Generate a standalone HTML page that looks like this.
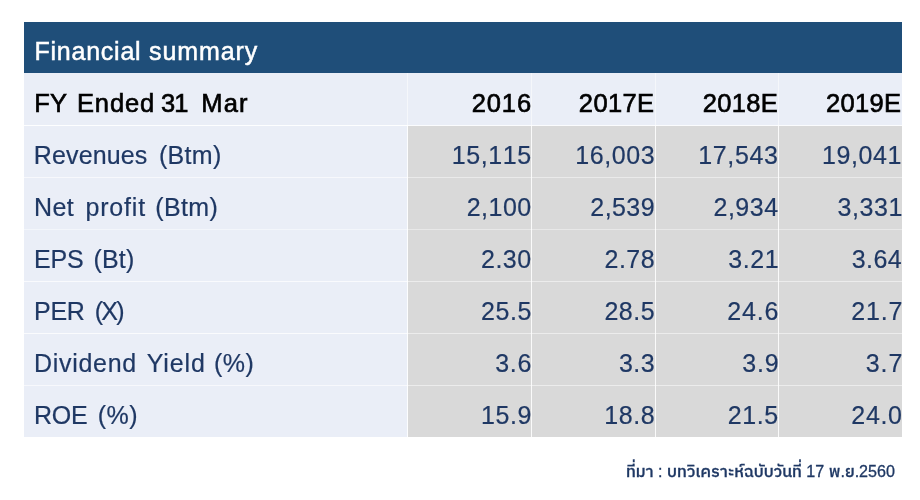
<!DOCTYPE html>
<html lang="th">
<head>
<meta charset="utf-8">
<title>Financial summary</title>
<style>
html,body{margin:0;padding:0;background:#fff;}
body{width:920px;height:500px;position:relative;overflow:hidden;font-family:"Liberation Sans",sans-serif;}
.hd{position:absolute;left:24.1px;top:22.1px;width:877.6px;height:50.6px;background:#1F4E79;}
.lb{position:absolute;left:24.1px;top:72.7px;width:877.6px;height:364.4px;background:#EAEEF7;}
.gr{position:absolute;left:408.1px;top:126px;width:493.6px;height:311.1px;background:#D9D9D9;}
.w{position:absolute;white-space:nowrap;font-size:25px;line-height:30px;height:30px;color:#1F3864;-webkit-text-stroke:0.2px #1F3864;}
.w.t{color:#fff;-webkit-text-stroke:0.5px #fff;}
.w.b{color:#000;font-weight:normal;-webkit-text-stroke:0.65px #000;}
.n{position:absolute;white-space:nowrap;font-kerning:none;font-size:25px;line-height:30px;height:30px;color:#1F3864;-webkit-text-stroke:0.2px #1F3864;}
.n.b{color:#000;font-weight:normal;-webkit-text-stroke:0.65px #000;}
.txt{position:absolute;left:0;top:0;width:920px;height:500px;will-change:transform;}
.vl{position:absolute;width:1px;}
.hl{position:absolute;left:24.1px;width:877.6px;height:1px;}
.src{position:absolute;white-space:nowrap;will-change:transform;color:#1F3864;font-family:"Liberation Sans","IBM Plex Sans Thai","Anuphan","Noto Sans Thai","Kanit",sans-serif;font-weight:500;-webkit-text-stroke:0.3px #1F3864;}
</style>
</head>
<body>
<div class="hd"></div><div class="lb"></div><div class="gr"></div>
<div class="hl" style="top:125px;width:384px;background:rgba(255,255,255,0.9)"></div>
<div class="hl" style="top:125px;left:408.1px;width:493.6px;background:rgba(255,255,255,0.8)"></div>
<div class="hl" style="top:177px;width:384px;background:rgba(255,255,255,0.6)"></div>
<div class="hl" style="top:177px;left:408.1px;width:493.6px;background:rgba(255,255,255,0.45)"></div>
<div class="hl" style="top:229.2px;width:384px;background:rgba(255,255,255,0.45)"></div>
<div class="hl" style="top:229.2px;left:408.1px;width:493.6px;background:rgba(255,255,255,0.4)"></div>
<div class="hl" style="top:281px;width:384px;background:rgba(255,255,255,0.7)"></div>
<div class="hl" style="top:281px;left:408.1px;width:493.6px;background:rgba(255,255,255,0.5)"></div>
<div class="hl" style="top:333px;width:384px;background:rgba(255,255,255,0.75)"></div>
<div class="hl" style="top:333px;left:408.1px;width:493.6px;background:rgba(255,255,255,0.5)"></div>
<div class="hl" style="top:385px;width:384px;background:rgba(255,255,255,0.6)"></div>
<div class="hl" style="top:385px;left:408.1px;width:493.6px;background:rgba(255,255,255,0.5)"></div>
<div class="vl" style="left:407.1px;top:72.7px;height:53.3px;background:rgba(255,255,255,.5)"></div>
<div class="vl" style="left:407.1px;top:126px;height:311.1px;background:rgba(255,255,255,.85)"></div>
<div class="vl" style="left:531px;top:72.7px;height:53.3px;background:rgba(255,255,255,.5)"></div>
<div class="vl" style="left:531px;top:126px;height:311.1px;background:rgba(255,255,255,.85)"></div>
<div class="vl" style="left:654.5px;top:72.7px;height:53.3px;background:rgba(255,255,255,.5)"></div>
<div class="vl" style="left:654.5px;top:126px;height:311.1px;background:rgba(255,255,255,.85)"></div>
<div class="vl" style="left:778px;top:72.7px;height:53.3px;background:rgba(255,255,255,.5)"></div>
<div class="vl" style="left:778px;top:126px;height:311.1px;background:rgba(255,255,255,.85)"></div>
<div class="txt">
<div class="row">
<span class="w t" style="left:34.38px;top:36.14px;letter-spacing:0.781px">Financial</span>
<span class="w t" style="left:149.04px;top:36.14px;letter-spacing:0.887px">summary</span>
</div>
<div class="row">
<span class="w b" style="left:34.31px;top:88.34px;letter-spacing:0.088px;font-size:25.5px">FY</span>
<span class="w b" style="left:76.92px;top:88.34px;letter-spacing:0.913px;font-size:25.5px">Ended</span>
<span class="w b" style="left:160.95px;top:88.34px;letter-spacing:-0.900px;font-size:25.5px">31</span>
<span class="w b" style="left:201.35px;top:88.34px;letter-spacing:1.161px;font-size:25.5px">Mar</span>
<span class="n b" style="left:471.80px;top:88.34px;letter-spacing:0.847px;font-size:25.5px">2016</span>
<span class="n b" style="left:578.84px;top:88.34px;letter-spacing:0.385px;font-size:25.5px">2017E</span>
<span class="n b" style="left:702.86px;top:88.34px;letter-spacing:0.302px;font-size:25.5px">2018E</span>
<span class="n b" style="left:825.91px;top:88.34px;letter-spacing:0.363px;font-size:25.5px">2019E</span>
</div>
<div class="row">
<span class="w " style="left:33.78px;top:140.34px;letter-spacing:0.136px">Revenues</span>
<span class="w " style="left:158.92px;top:140.34px;letter-spacing:0.329px">(Btm)</span>
<span class="n " style="left:451.74px;top:140.34px;letter-spacing:0.600px">15,115</span>
<span class="n " style="left:575.13px;top:140.34px;letter-spacing:0.600px">16,003</span>
<span class="n " style="left:698.37px;top:140.34px;letter-spacing:0.600px">17,543</span>
<span class="n " style="left:822.06px;top:140.34px;letter-spacing:0.600px">19,041</span>
</div>
<div class="row">
<span class="w " style="left:34.05px;top:192.34px;letter-spacing:0.387px">Net</span>
<span class="w " style="left:85.56px;top:192.34px;letter-spacing:0.792px">profit</span>
<span class="w " style="left:155.37px;top:192.34px;letter-spacing:0.349px">(Btm)</span>
<span class="n " style="left:466.67px;top:192.34px;letter-spacing:0.511px">2,100</span>
<span class="n " style="left:590.33px;top:192.34px;letter-spacing:0.429px">2,539</span>
<span class="n " style="left:713.49px;top:192.34px;letter-spacing:0.509px">2,934</span>
<span class="n " style="left:837.52px;top:192.34px;letter-spacing:0.600px">3,331</span>
</div>
<div class="row">
<span class="w " style="left:34.05px;top:244.34px;letter-spacing:-0.137px">EPS</span>
<span class="w " style="left:93.44px;top:244.34px;letter-spacing:0.189px">(Bt)</span>
<span class="n " style="left:480.97px;top:244.34px;letter-spacing:0.519px">2.30</span>
<span class="n " style="left:604.49px;top:244.34px;letter-spacing:0.503px">2.78</span>
<span class="n " style="left:728.13px;top:244.34px;letter-spacing:0.600px">3.21</span>
<span class="n " style="left:851.73px;top:244.34px;letter-spacing:0.452px">3.64</span>
</div>
<div class="row">
<span class="w " style="left:34.05px;top:296.34px;letter-spacing:-0.324px">PER</span>
<span class="w " style="left:94.66px;top:296.34px;letter-spacing:-1.763px">(X)</span>
<span class="n " style="left:480.97px;top:296.34px;letter-spacing:0.560px">25.5</span>
<span class="n " style="left:604.49px;top:296.34px;letter-spacing:0.477px">28.5</span>
<span class="n " style="left:727.35px;top:296.34px;letter-spacing:0.833px">24.6</span>
<span class="n " style="left:851.33px;top:296.34px;letter-spacing:0.773px">21.7</span>
</div>
<div class="row">
<span class="w " style="left:34.05px;top:348.34px;letter-spacing:0.692px">Dividend</span>
<span class="w " style="left:146.68px;top:348.34px;letter-spacing:0.907px">Yield</span>
<span class="w " style="left:214.10px;top:348.34px;letter-spacing:0.405px">(%)</span>
<span class="n " style="left:495.31px;top:348.34px;letter-spacing:0.646px">3.6</span>
<span class="n " style="left:619.05px;top:348.34px;letter-spacing:0.394px">3.3</span>
<span class="n " style="left:742.28px;top:348.34px;letter-spacing:0.778px">3.9</span>
<span class="n " style="left:865.75px;top:348.34px;letter-spacing:0.896px">3.7</span>
</div>
<div class="row">
<span class="w " style="left:34.05px;top:400.34px;letter-spacing:-0.296px">ROE</span>
<span class="w " style="left:97.83px;top:400.34px;letter-spacing:0.457px">(%)</span>
<span class="n " style="left:480.97px;top:400.34px;letter-spacing:0.600px">15.9</span>
<span class="n " style="left:604.18px;top:400.34px;letter-spacing:0.600px">18.8</span>
<span class="n " style="left:727.67px;top:400.34px;letter-spacing:0.640px">21.5</span>
<span class="n " style="left:851.33px;top:400.34px;letter-spacing:0.681px">24.0</span>
</div>
</div>
<div class="src" style="right:24.70px;top:459.00px;font-size:16.1px;letter-spacing:0px;line-height:24px">ที่มา : บทวิเคราะห์ฉบับวันที่ 17 พ.ย.2560</div>
</body>
</html>
